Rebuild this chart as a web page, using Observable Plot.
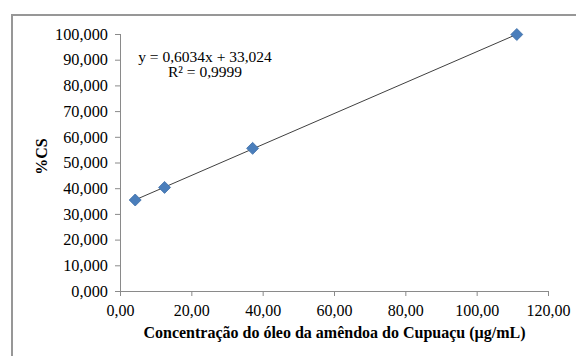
<!DOCTYPE html>
<html>
<head>
<meta charset="utf-8">
<script src="https://cdn.jsdelivr.net/npm/d3@7"></script>
<script src="https://cdn.jsdelivr.net/npm/@observablehq/plot@0.6"></script>
<style>
  html, body { margin: 0; padding: 0; background: #fff; overflow: hidden; }
  #wrap { position: relative; width: 576px; height: 356px; }
  #frame { position: absolute; left: 11px; top: 14px; width: 600px; height: 400px; border: 2px solid #979797; box-sizing: border-box; }
  #chart { position: absolute; left: 0; top: 0; }
  #chart svg, #chart svg text { font-family: "Liberation Serif", "DejaVu Serif", serif !important; }
</style>
</head>
<body>
<div id="wrap"><div id="frame"></div><div id="chart"></div></div>
<script>
// Data
const concentration = [4.12, 12.35, 37.04, 111.11];   // µg/mL
const percentCS = [35.6, 40.5, 55.7, 100.0];          // %CS
const xTicks = [0, 20, 40, 60, 80, 100, 120];
const yTicks = [0, 10, 20, 30, 40, 50, 60, 70, 80, 90, 100];
const equationText = "y = 0,6034x + 33,024";
const r2Text = "R² = 0,9999";
const xTitle = "Concentração do óleo da amêndoa do Cupuaçu (µg/mL)";
const yTitle = "%CS";

const data = concentration.map((x, i) => ({x, y: percentCS[i]}));
const axisColor = "#8a8a8a";
const fmtX = d => d.toFixed(2).replace(".", ",");
const fmtY = d => d.toFixed(3).replace(".", ",");

const chart = Plot.plot({
  width: 576,
  height: 356,
  marginLeft: 120,
  marginRight: 28,
  marginTop: 34,
  marginBottom: 65,
  style: {background: "transparent", overflow: "visible"},
  x: {domain: [0, 120], ticks: xTicks},
  y: {domain: [0, 100], ticks: yTicks},
  marks: [
    Plot.ruleY([0], {stroke: axisColor, strokeWidth: 1}),
    Plot.ruleX([0], {stroke: axisColor, strokeWidth: 1}),
    Plot.axisX({ticks: xTicks, tickFormat: fmtX, tickSize: 5, tickPadding: 8, stroke: axisColor, strokeOpacity: 1, fill: "#000", fontSize: 16, label: null}),
    Plot.axisY({ticks: yTicks, tickFormat: fmtY, tickSize: 5, tickPadding: 7.5, stroke: axisColor, strokeOpacity: 1, fill: "#000", fontSize: 16.3, label: null}),
    Plot.linearRegressionY(data, {x: "x", y: "y", ci: 0, stroke: "#404040", strokeWidth: 1}),
    Plot.dot(data, {x: "x", y: "y", symbol: "diamond2", r: 5.4, fill: "#4a7ebb", stroke: "#3f6fa8", strokeWidth: 0.8}),
    Plot.text([equationText], {frameAnchor: "top-left", dx: 84.5, dy: 27, textAnchor: "middle", lineAnchor: "bottom", fontSize: 15.5, fill: "#000"}),
    Plot.text([r2Text], {frameAnchor: "top-left", dx: 84.5, dy: 42, textAnchor: "middle", lineAnchor: "bottom", fontSize: 15.5, fill: "#000"}),
    Plot.text([xTitle], {frameAnchor: "bottom", dy: 46, textAnchor: "middle", lineAnchor: "bottom", fontSize: 16, fontWeight: "bold", fill: "#000"}),
    Plot.text([yTitle], {frameAnchor: "left", dx: -79, dy: -6.5, rotate: -90, textAnchor: "middle", lineAnchor: "middle", fontSize: 16, fontWeight: "bold", fill: "#000"})
  ]
});
document.getElementById("chart").appendChild(chart);
</script>
</body>
</html>
